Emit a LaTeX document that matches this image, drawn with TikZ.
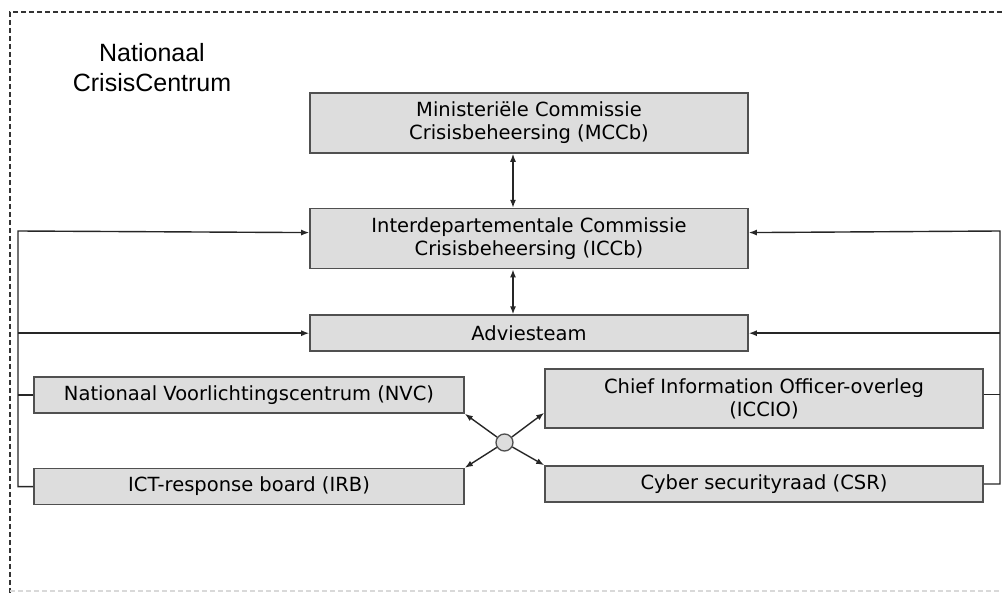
\documentclass[tikz,border=0pt]{standalone}
\usepackage{fontspec}
\usetikzlibrary{positioning,arrows.meta}
\newfontfamily\boxfont{DejaVu Sans}
\newfontfamily\titlefont{Liberation Sans}
\definecolor{boxgray}{RGB}{221,221,221}
\definecolor{linegray}{RGB}{80,80,80}

\begin{document}
\begin{tikzpicture}[x=1pt,y=-1pt,inner sep=0pt,node distance=54pt]
\tikzstyle{box}=[rectangle, draw=linegray, fill=boxgray, line width=1.6pt, align=center, minimum height=36pt, font=\boxfont\fontsize{19.5}{23}\selectfont]
\tikzstyle{connect}=[-{Latex[length=8pt,width=6pt]}, line width=1.4pt, draw=black!85]
\tikzstyle{both}=[{Latex[length=8pt,width=6pt]}-{Latex[length=8pt,width=6pt]}, line width=1.4pt, draw=black!85]
\tikzstyle{plain}=[line width=1.4pt, draw=black!85]
\tikzstyle{hubdot}=[circle, draw=linegray, fill=boxgray, line width=1.3pt, minimum size=17pt]
\tikzstyle{frame}=[line width=1.3pt, draw=black!80, dash pattern=on 5pt off 3pt]
\useasboundingbox (0,0) rectangle (1002,593);
% outer frame
\draw[frame] (1002,12) -- (10,12) -- (10,593);
\draw[frame, draw=black!15] (10,591) -- (1002,591);
\node[anchor=north, align=center, font=\titlefont\fontsize{25}{30}\selectfont] (ncc) at (152,43) {Nationaal\\CrisisCentrum};
% boxes
\node[box, minimum width=438pt, minimum height=60pt] (mccb) at (529,123) {Ministeriële Commissie\\Crisisbeheersing (MCCb)};
\node[box, minimum width=438pt, minimum height=60pt] (iccb) [below=of mccb] {Interdepartementale Commissie\\Crisisbeheersing (ICCb)};
\node[box, minimum width=438pt] (advies) [below=45pt of iccb] {Adviesteam};
\node[box, minimum width=430pt] (nvc) at (249,395) {Nationaal Voorlichtingscentrum (NVC)};
\node[box, minimum width=430pt] (irb) [below=of nvc] {ICT-response board (IRB)};
\node[box, minimum width=438pt, minimum height=59pt] (cio) at (764,398.5) {Chief Information Officer-overleg\\(ICCIO)};
\node[box, minimum width=438pt] (csr) at (764,484) {Cyber securityraad (CSR)};
\node[hubdot] (hub) at (504.5,442.5) {};
% bus lines
\coordinate (lt) at (18,231);
\coordinate (rt) at (1000,231);
\path (mccb.south) ++(-16,0) coordinate (mb);
\draw[both] (mb) -- (mb |- iccb.north);
\draw[both] (mb |- iccb.south) -- (mb |- advies.north);
\draw[connect] (irb.west) -| (lt) -- ([yshift=6pt]iccb.west);
\draw[connect] (lt |- advies.west) -- (advies.west);
\draw[plain] (nvc.west) -- (nvc.west -| lt);
\draw[connect] (csr.east) -| (rt) -- ([yshift=6pt]iccb.east);
\draw[connect] (rt |- advies.east) -- (advies.east);
\draw[plain] ([yshift=4pt]cio.east) -- ([yshift=4pt]cio.east -| rt);
% hub
\draw[connect] (hub) -- (nvc.south east);
\draw[connect] (hub) -- (irb.north east);
\draw[connect] (hub) -- ([yshift=16pt]cio.south west);
\draw[connect] (hub) -- (csr.north west);
\end{tikzpicture}
\end{document}
